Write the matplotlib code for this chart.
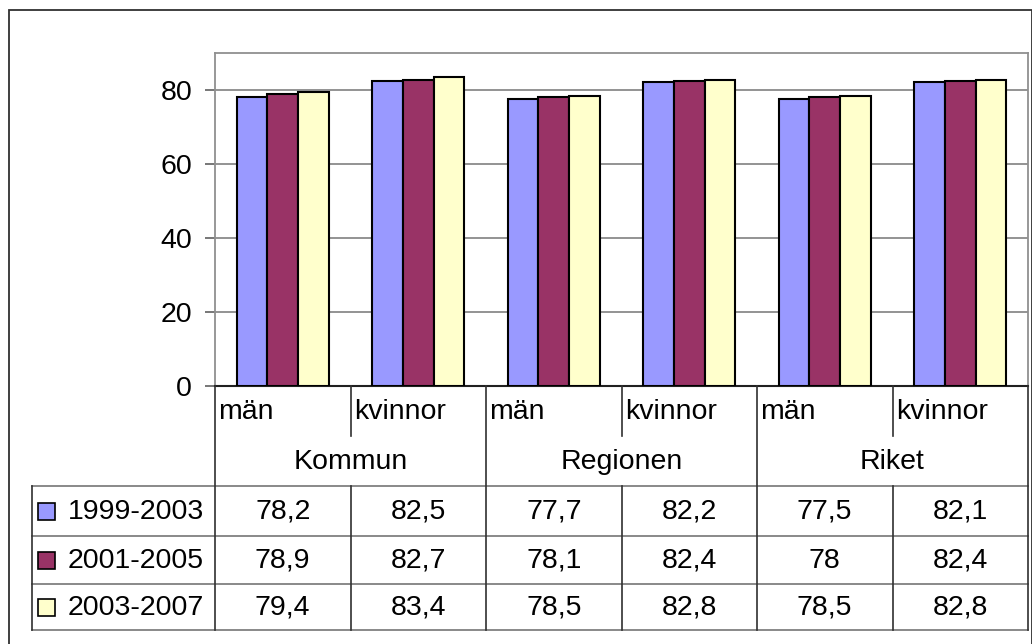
#!/usr/bin/env python3
"""Mean life expectancy bar chart with an Excel-style data table underneath."""

import matplotlib
matplotlib.use("Agg")
import matplotlib.pyplot as plt
from matplotlib.patches import Rectangle

plt.rcParams['font.family'] = ['Liberation Sans', 'DejaVu Sans']

# --- data ---
categories = ['män', 'kvinnor', 'män', 'kvinnor', 'män', 'kvinnor']
groups = ['Kommun', 'Regionen', 'Riket']
series_names = ['1999-2003', '2001-2005', '2003-2007']
s1999 = [78.2, 82.5, 77.7, 82.2, 77.5, 82.1]
s2001 = [78.9, 82.7, 78.1, 82.4, 78.0, 82.4]
s2003 = [79.4, 83.4, 78.5, 82.8, 78.5, 82.8]
value_labels = [
    ['78,2', '82,5', '77,7', '82,2', '77,5', '82,1'],
    ['78,9', '82,7', '78,1', '82,4', '78', '82,4'],
    ['79,4', '83,4', '78,5', '82,8', '78,5', '82,8'],
]
yticks = [0, 20, 40, 60, 80]

COLOURS = ['#9999FF', '#993366', '#FFFFCC']
FS = 20.5
W, H = 1032, 644

fig = plt.figure(figsize=(W / 100, H / 100), dpi=100)
fig.patch.set_facecolor('white')

# outer chart border
fig.patches.append(Rectangle((9 / W, -0.01), (1031.5 - 9) / W, 1 - 10 / H + 0.01,
                             transform=fig.transFigure, fill=False,
                             edgecolor='#303030', linewidth=1.3))

# --- bar plot area ---
ax = fig.add_axes([215 / W, 1 - 386 / H, 813 / W, 333 / H])
n = len(categories)
xs = list(range(n))
bw = 0.68 / 3
for k, vals in enumerate([s1999, s2001, s2003]):
    ax.bar([x + (k - 1) * bw for x in xs], vals, width=bw, color=COLOURS[k],
           edgecolor='black', linewidth=1.5, zorder=3)

ax.set_xlim(-0.5, n - 0.5)
ax.set_ylim(0, 90)
ax.set_yticks(yticks)
ax.set_xticks([])
ax.yaxis.grid(True, color='#808080', linewidth=1.2, zorder=0)
ax.tick_params(axis='y', length=7.5, width=1.2, color='#606060', pad=9,
               labelsize=FS, labelcolor='black')
for side in ['top', 'right', 'left']:
    ax.spines[side].set_color('#909090')
    ax.spines[side].set_linewidth(1.3)
ax.spines['bottom'].set_color('#202020')
ax.spines['bottom'].set_linewidth(1.5)

# --- data table (y in pixel rows, top to bottom) ---
rows = [386, 436, 486, 536, 584, 630]
colw = 813 / n
left_units = (215 - 32) / colw
tab = fig.add_axes([32 / W, 1 - 630 / H, (1028 - 32) / W, 244 / H])
x0 = -0.5 - left_units
tab.set_xlim(x0, n - 0.5)
tab.set_ylim(rows[-1], rows[0])
tab.axis('off')

hcol, vcol = '#808080', '#303030'
for yb in rows[2:]:
    tab.plot([x0, n - 0.5], [yb, yb], color=hcol, lw=1.3, clip_on=False)
tab.plot([x0, x0], [rows[2], rows[-1]], color=vcol, lw=1.2, clip_on=False)
for xb in [-0.5, 1.5, 3.5, n - 0.5]:
    tab.plot([xb, xb], [rows[0], rows[-1]], color=vcol, lw=1.2, clip_on=False)
for xb in [0.5, 2.5, 4.5]:
    tab.plot([xb, xb], [rows[0], rows[1]], color=vcol, lw=1.2, clip_on=False)
    tab.plot([xb, xb], [rows[2], rows[-1]], color=vcol, lw=1.2, clip_on=False)

mid = [(rows[i] + rows[i + 1]) / 2 for i in range(len(rows) - 1)]
for i, cat in enumerate(categories):
    tab.text(i - 0.5 + 0.025, mid[0] + 1, cat, ha='left', va='center', fontsize=FS)
for g, name in enumerate(groups):
    tab.text(2 * g + 0.5, mid[1] + 1, name, ha='center', va='center', fontsize=FS)
for r, row in enumerate(value_labels):
    yc = mid[r + 2] + 1
    for i, lab in enumerate(row):
        tab.text(i, yc, lab, ha='center', va='center', fontsize=FS)
    # legend key + series name
    ks = 17
    tab.add_patch(Rectangle((x0 + 6 / colw, yc - ks / 2), ks / colw, ks,
                            facecolor=COLOURS[r], edgecolor='black', lw=1.2,
                            clip_on=False))
    tab.text(x0 + 36 / colw, yc, series_names[r], ha='left', va='center',
             fontsize=FS)

fig.savefig('out.png', dpi=100)
